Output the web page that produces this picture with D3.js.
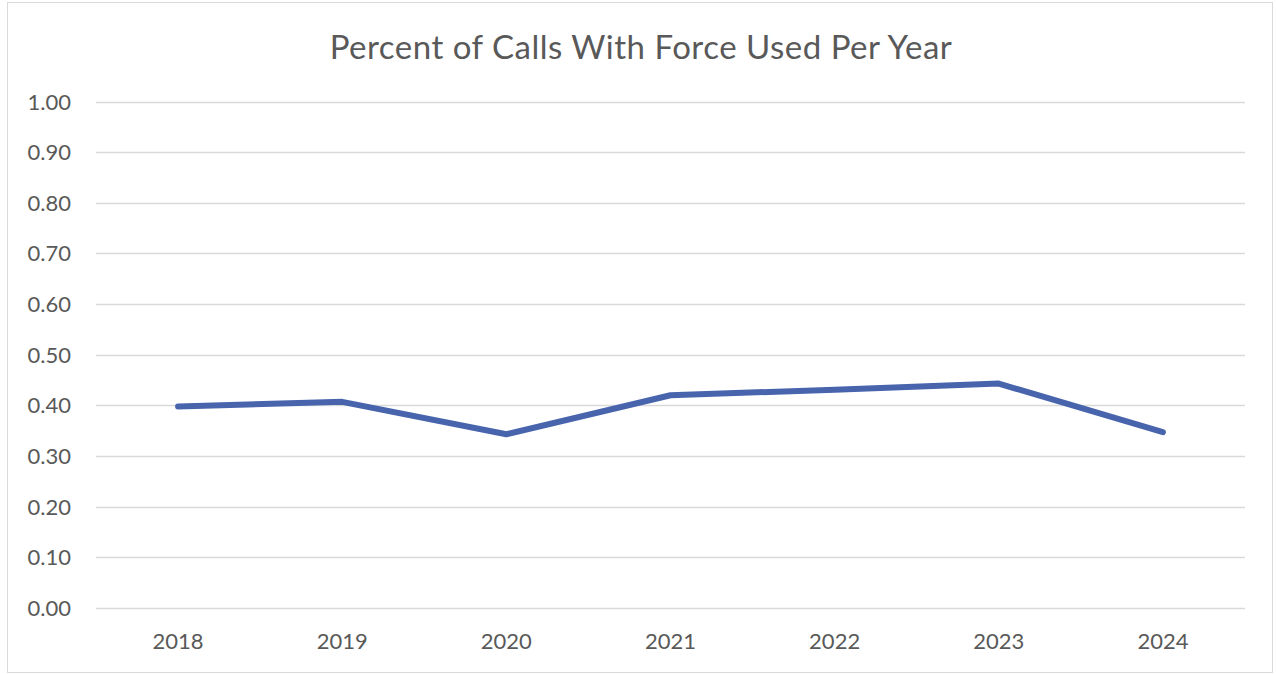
<!DOCTYPE html>
<html>
<head>
<meta charset="utf-8">
<script src="https://cdn.jsdelivr.net/npm/d3@7"></script>
<style>
  body { margin: 0; background: #fff; }
  svg { display: block; }
</style>
</head>
<body>
<script>
// data
const years = ['2018', '2019', '2020', '2021', '2022', '2023', '2024']
const pctForce = [0.398, 0.407, 0.343, 0.420, 0.431, 0.443, 0.347]
const yTicks = [0, 0.1, 0.2, 0.3, 0.4, 0.5, 0.6, 0.7, 0.8, 0.9, 1.0]
const title = 'Percent of Calls With Force Used Per Year'

const WIDTH = 1276
const HEIGHT = 674
const textColor = '#595959'
const font = 'Lato, "Open Sans", sans-serif'

const svg = d3.select('body').append('svg')
  .attr('width', WIDTH)
  .attr('height', HEIGHT)

// chart border
svg.append('rect')
  .attr('x', 7.5).attr('y', 2.5)
  .attr('width', 1265).attr('height', 670)
  .attr('fill', '#fff')
  .attr('stroke', '#d9d9d9')
  .attr('stroke-width', 1)

const plotLeft = 96, plotRight = 1245, plotTop = 101.5, plotBottom = 608

const x = d3.scaleBand().domain(years).range([plotLeft, plotRight])
const y = d3.scaleLinear().domain([0, 1]).range([plotBottom, plotTop])

svg.append('text')
  .attr('x', 641)
  .attr('y', 59)
  .attr('text-anchor', 'middle')
  .attr('fill', textColor)
  .style('font-family', font)
  .style('font-size', '33px')
  .style('letter-spacing', '0.5px')
  .text(title)

// gridlines
svg.append('g')
  .selectAll('line')
  .data(yTicks)
  .enter().append('line')
  .attr('x1', plotLeft).attr('x2', plotRight)
  .attr('y1', d => Math.round(y(d)) + 0.5)
  .attr('y2', d => Math.round(y(d)) + 0.5)
  .attr('stroke', '#d9d9d9')
  .attr('stroke-width', 1.5)

// y labels
svg.append('g')
  .selectAll('text')
  .data(yTicks)
  .enter().append('text')
  .attr('x', 71)
  .attr('y', d => y(d) + 8)
  .attr('text-anchor', 'end')
  .attr('fill', textColor)
  .style('font-family', font)
  .style('font-size', '22px')
  .text(d => d3.format('.2f')(d))

// x labels
svg.append('g')
  .selectAll('text')
  .data(years)
  .enter().append('text')
  .attr('x', d => x(d) + x.bandwidth() / 2)
  .attr('y', 649)
  .attr('text-anchor', 'middle')
  .attr('fill', textColor)
  .style('font-family', font)
  .style('font-size', '22px')
  .text(d => d)

// the line
const line = d3.line()
  .x((d, i) => x(years[i]) + x.bandwidth() / 2)
  .y(d => y(d))

svg.append('path')
  .datum(pctForce)
  .attr('d', line)
  .attr('fill', 'none')
  .attr('stroke', '#4764ad')
  .attr('stroke-width', 6)
  .attr('stroke-linecap', 'round')
  .attr('stroke-linejoin', 'round')
</script>
</body>
</html>
